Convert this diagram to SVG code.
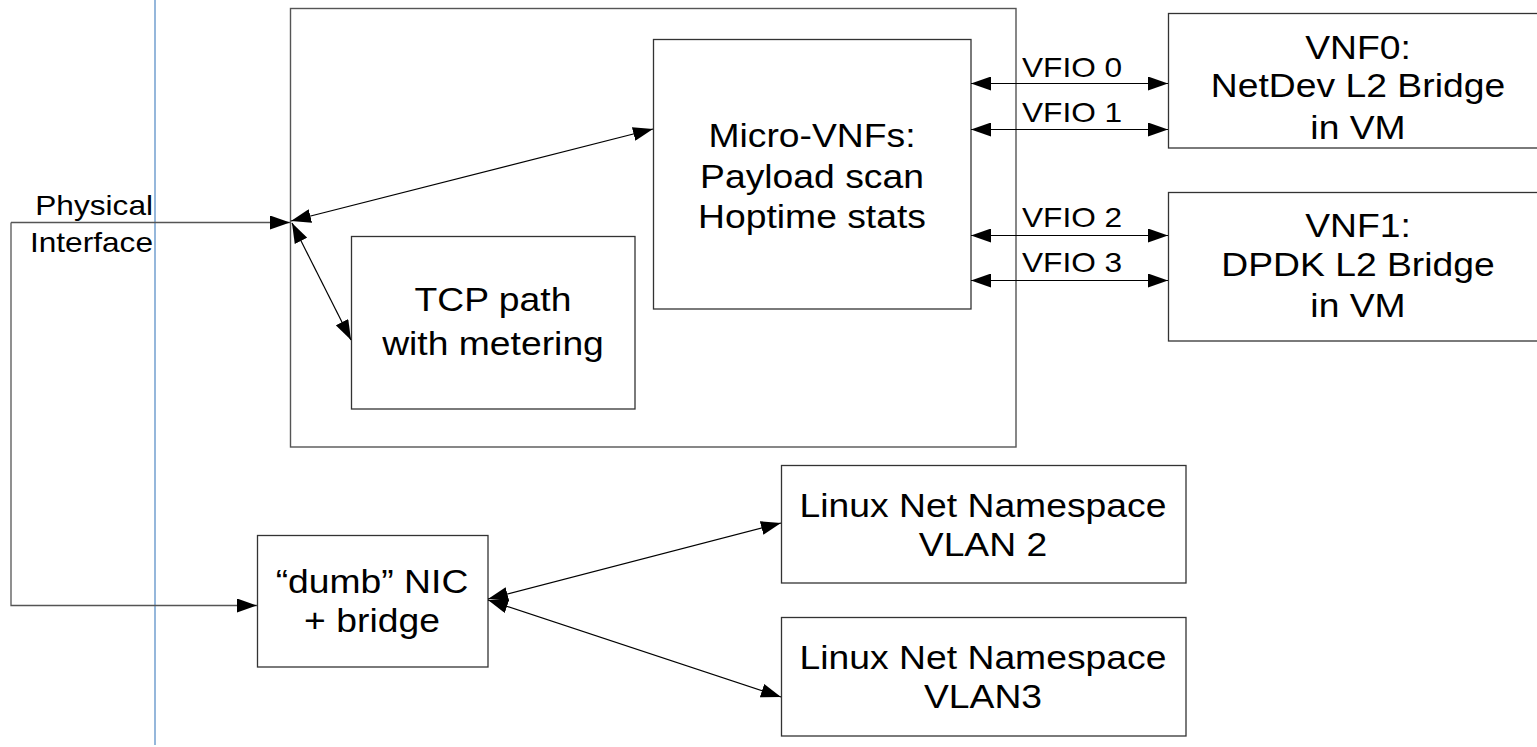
<svg xmlns="http://www.w3.org/2000/svg" width="1537" height="747" viewBox="0 0 1537 747">
<style>
.box{fill:#fff;stroke:#333;stroke-width:1.3}
.outer{fill:none;stroke:#555;stroke-width:1.4}
.t{font-family:"Liberation Sans",Arial,sans-serif;font-size:33px;fill:#000;text-anchor:middle}
.s{font-family:"Liberation Sans",Arial,sans-serif;font-size:28px;fill:#000}
.c{fill:none;stroke:#000;stroke-width:1.2}
.g{fill:none;stroke:#555;stroke-width:1.3}
</style>
<defs>
<marker id="ah" viewBox="0 0 20 14" refX="20" refY="7" markerWidth="20" markerHeight="14" markerUnits="userSpaceOnUse" orient="auto-start-reverse">
<path d="M0 0 L20 7 L0 14 Z" fill="#000"/>
</marker>
</defs>
<rect width="1537" height="747" fill="#fff"/>
<line x1="155" y1="0" x2="155" y2="745" stroke="#729fcf" stroke-width="1.5"/>
<g id="outer">
<rect class="outer" x="290.5" y="8.5" width="725.5" height="438.5"/>
</g>
<g id="micro">
<rect class="box" x="653.5" y="39.5" width="317.5" height="269.5"/>
<text class="t" transform="translate(812 0) scale(1.13 1)"><tspan x="0" y="147">Micro-VNFs:</tspan><tspan x="0" y="188">Payload scan</tspan><tspan x="0" y="228">Hoptime stats</tspan></text>
</g>
<g id="tcp">
<rect class="box" x="351.5" y="236.5" width="283.5" height="172.5"/>
<text class="t" transform="translate(493 0) scale(1.13 1)"><tspan x="0" y="311">TCP path</tspan><tspan x="0" y="355">with metering</tspan></text>
</g>
<g id="vnf0">
<rect class="box" x="1168.5" y="13.5" width="372" height="134.5"/>
<text class="t" transform="translate(1358 0) scale(1.13 1)"><tspan x="0" y="59">VNF0:</tspan><tspan x="0" y="97">NetDev L2 Bridge</tspan><tspan x="0" y="139">in VM</tspan></text>
</g>
<g id="vnf1">
<rect class="box" x="1168.5" y="192.5" width="372" height="148.5"/>
<text class="t" transform="translate(1358 0) scale(1.13 1)"><tspan x="0" y="237">VNF1:</tspan><tspan x="0" y="276">DPDK L2 Bridge</tspan><tspan x="0" y="317">in VM</tspan></text>
</g>
<g id="vlan2">
<rect class="box" x="781.5" y="465.5" width="404.5" height="117.5"/>
<text class="t" transform="translate(983 0) scale(1.13 1)"><tspan x="0" y="517">Linux Net Namespace</tspan><tspan x="0" y="556">VLAN 2</tspan></text>
</g>
<g id="vlan3">
<rect class="box" x="781.5" y="617.5" width="404.5" height="118.5"/>
<text class="t" transform="translate(983 0) scale(1.13 1)"><tspan x="0" y="669">Linux Net Namespace</tspan><tspan x="0" y="708">VLAN3</tspan></text>
</g>
<g id="nic">
<rect class="box" x="257.5" y="535.5" width="230.5" height="131.5"/>
<text class="t" transform="translate(372 0) scale(1.13 1)"><tspan x="0" y="593">“dumb” NIC</tspan><tspan x="0" y="632">+ bridge</tspan></text>
</g>
<g id="phys">
<text class="s" text-anchor="end" transform="translate(153 0) scale(1.13 1)"><tspan x="0" y="215">Physical</tspan><tspan x="0" y="252">Interface</tspan></text>
</g>
<g id="connectors">
<path class="g" d="M11 222.5 H290" marker-end="url(#ah)"/>
<path class="g" d="M11 222.5 V605.5 H257" marker-end="url(#ah)"/>
<line class="c" x1="291" y1="221" x2="653" y2="129" marker-start="url(#ah)" marker-end="url(#ah)"/>
<line class="c" x1="292" y1="223" x2="351" y2="340" marker-start="url(#ah)" marker-end="url(#ah)"/>
<line class="c" x1="971" y1="83.5" x2="1168" y2="83.5" marker-start="url(#ah)" marker-end="url(#ah)"/>
<line class="c" x1="971" y1="129.5" x2="1168" y2="129.5" marker-start="url(#ah)" marker-end="url(#ah)"/>
<line class="c" x1="971" y1="235.5" x2="1168" y2="235.5" marker-start="url(#ah)" marker-end="url(#ah)"/>
<line class="c" x1="971" y1="280.5" x2="1168" y2="280.5" marker-start="url(#ah)" marker-end="url(#ah)"/>
<line class="c" x1="488" y1="599" x2="781" y2="523" marker-start="url(#ah)" marker-end="url(#ah)"/>
<line class="c" x1="488" y1="600" x2="781" y2="697" marker-start="url(#ah)" marker-end="url(#ah)"/>
<text class="s" transform="translate(1022 0) scale(1.13 1)"><tspan x="0" y="77">VFIO 0</tspan><tspan x="0" y="122">VFIO 1</tspan><tspan x="0" y="227">VFIO 2</tspan><tspan x="0" y="272">VFIO 3</tspan></text>
</g>
</svg>
